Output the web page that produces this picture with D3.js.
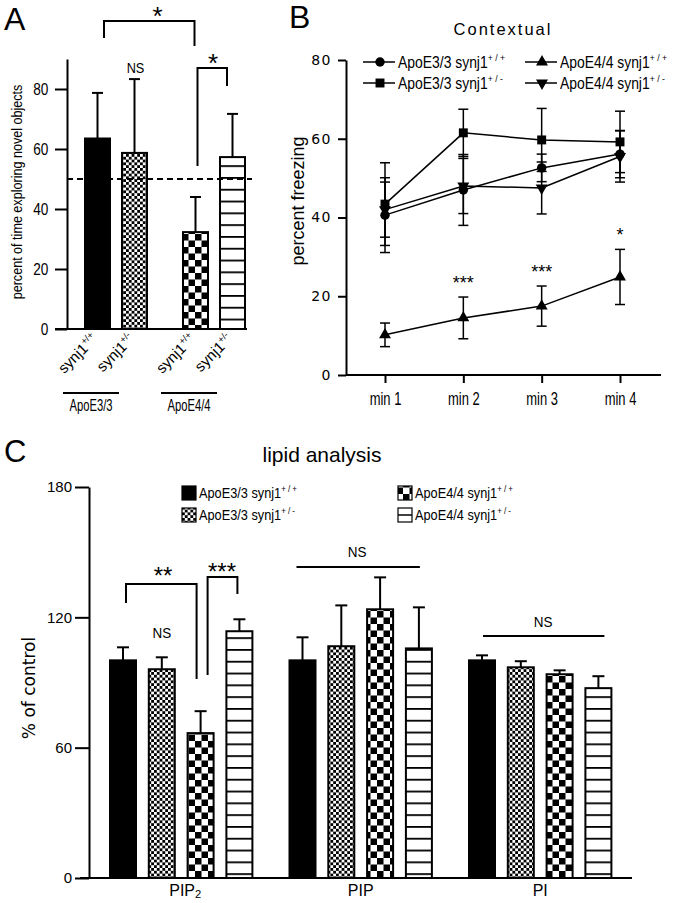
<!DOCTYPE html>
<html><head><meta charset="utf-8">
<script src="https://cdn.jsdelivr.net/npm/d3@7"></script>
<style>body{margin:0;background:#fff}svg{display:block}</style>
</head><body>
<script>
// ================= DATA =================
// Panel A: novel object recognition
const aGroups = ["ApoE3/3", "ApoE4/4"];
const aGenotypes = ["+/+", "+/-"];
const aValues = [63.5, 58.7, 32.3, 57.3];
const aErrors = [15.2, 24.6, 11.7, 14.4];
const aTicks = [0, 20, 40, 60, 80];
const aChance = 50;

// Panel B: contextual fear conditioning
const bTimes = ["min 1", "min 2", "min 3", "min 4"];
const bTicks = [0, 20, 40, 60, 80];
const bNames = ["ApoE3/3 synj1", "ApoE3/3 synj1", "ApoE4/4 synj1", "ApoE4/4 synj1"];
const bSups = ["+ / +", "+ / -", "+ / +", "+ / -"];
const bE33wt = [40.6, 47.0, 52.6, 56.1];
const bE33wtErr = [9.5, 9.0, 3.5, 6.0];
const bE33het = [43.4, 61.5, 59.7, 59.2];
const bE33hetErr = [10.5, 6.0, 8.0, 7.8];
const bE44wt = [10.2, 14.5, 17.5, 24.9];
const bE44wtErr = [3.0, 5.3, 5.1, 7.0];
const bE44het = [42.0, 48.0, 47.5, 55.5];
const bE44hetErr = [7.0, 7.0, 6.6, 6.5];
const bStars = ["", "***", "***", "*"];

// Panel C: lipid analysis
const cLipids = ["PIP", "PIP", "PI"];
const cLipidSubs = ["2", "", ""];
const cTicks = [0, 60, 120, 180];
const cE33wt = [100.2, 100.2, 100.2];
const cE33wtErr = [6.0, 10.6, 2.3];
const cE33het = [96.1, 106.7, 97.0];
const cE33hetErr = [5.5, 18.8, 2.8];
const cE44wt = [66.7, 123.7, 93.8];
const cE44wtErr = [10.1, 14.7, 1.8];
const cE44het = [113.6, 105.7, 87.4];
const cE44hetErr = [5.5, 18.9, 5.5];
const cNames = ["ApoE3/3 synj1", "ApoE3/3 synj1", "ApoE4/4 synj1", "ApoE4/4 synj1"];
const cSups = ["+ / +", "+ / -", "+ / +", "+ / -"];

// ================= DRAWING =================
const SANS = "'Liberation Sans', Arial, Helvetica, sans-serif";
const WIDE = "'DejaVu Sans', Verdana, sans-serif";
const svg = d3.select("body").append("svg").attr("width", 673).attr("height", 903);

// patterns
const defs = svg.append("defs");
function checker(id, c) {
  const p = defs.append("pattern").attr("id", id).attr("patternUnits", "userSpaceOnUse")
    .attr("width", 2 * c).attr("height", 2 * c);
  p.append("rect").attr("width", 2 * c).attr("height", 2 * c).attr("fill", "#fff");
  p.append("rect").attr("width", c).attr("height", c).attr("fill", "#000");
  p.append("rect").attr("x", c).attr("y", c).attr("width", c).attr("height", c).attr("fill", "#000");
}
checker("fineChk", 2.8);
checker("bigChk", 6.5);
const sp = defs.append("pattern").attr("id", "stripes").attr("patternUnits", "userSpaceOnUse")
  .attr("width", 20).attr("height", 11.8);
sp.append("rect").attr("width", 20).attr("height", 11.8).attr("fill", "#fff");
sp.append("rect").attr("y", 0).attr("width", 20).attr("height", 1.8).attr("fill", "#000");
const fills = ["#000", "url(#fineChk)", "url(#bigChk)", "url(#stripes)"];

// text helper: parts = [{t, sup?, sub?}]
function label(parent, x, y, parts, o) {
  const t = parent.append("text")
    .attr("transform", `translate(${x},${y}) rotate(${o.rotate || 0}) scale(${o.sx || 1},1)`)
    .attr("font-family", o.family || SANS).attr("font-size", o.size)
    .attr("text-anchor", o.anchor || "start").attr("letter-spacing", o.ls || 0)
    .attr("fill", "#000");
  let shift = 0;
  parts.forEach(p => {
    const s = t.append("tspan").text(p.t);
    if (p.sup) { s.attr("font-size", o.size * 0.62).attr("dy", -o.size * 0.42 - shift); shift = -o.size * 0.42; }
    else if (p.sub) { s.attr("font-size", o.size * 0.7).attr("dy", o.size * 0.15 - shift); shift = o.size * 0.15; }
    else if (shift) { s.attr("dy", -shift); shift = 0; }
  });
  return t;
}
function styleAxis(g, fontSize, family) {
  g.select(".domain").attr("stroke-width", 2);
  g.selectAll(".tick line").attr("stroke-width", 2);
  g.selectAll(".tick text").attr("font-size", fontSize).attr("font-family", family).attr("fill", "#000");
}
function errBar(g, cx, y0, y1, cap, w) {
  g.append("line").attr("x1", cx).attr("x2", cx).attr("y1", y0).attr("y2", y1).attr("stroke", "#000").attr("stroke-width", w);
  g.append("line").attr("x1", cx - cap / 2).attr("x2", cx + cap / 2).attr("y1", y1).attr("y2", y1).attr("stroke", "#000").attr("stroke-width", w);
}
function path(g, pts, w) {
  g.append("path").attr("d", d3.line()(pts)).attr("fill", "none").attr("stroke", "#000").attr("stroke-width", w || 2);
}

// ---------- Panel A ----------
const A = svg.append("g");
label(A, 4, 30, [{ t: "A" }], { size: 32 });
const ay = d3.scaleLinear().domain([0, 90]).range([329, 59]);
const axG = d3.scaleBand().domain(aGroups).range([67, 263]);
const axS = d3.scaleBand().domain(aGenotypes).range([18, 80]).paddingInner(12 / 37);
const aBars = aValues.map((v, i) => {
  const g = aGroups[Math.floor(i / 2)], k = aGenotypes[i % 2];
  return { g, k, v, e: aErrors[i], x: axG(g) + axS(k), fill: fills[i] };
});
const aw = axS.bandwidth();
const aAxis = A.append("g").attr("transform", "translate(67,0)")
  .call(d3.axisLeft(ay).tickValues(aTicks).tickSize(12).tickSizeOuter(0).tickPadding(7));
styleAxis(aAxis, 16, SANS);
aAxis.selectAll(".tick text").attr("transform", "scale(0.85,1)").attr("x", -22);
A.append("line").attr("x1", 55).attr("x2", 247).attr("y1", ay(0)).attr("y2", ay(0)).attr("stroke", "#000").attr("stroke-width", 2);
aBars.forEach(d => {
  errBar(A, d.x + aw / 2, ay(d.v), ay(d.v + d.e), 11, 2);
  A.append("rect").attr("x", d.x).attr("y", ay(d.v)).attr("width", aw).attr("height", ay(0) - ay(d.v))
    .attr("fill", d.fill).attr("stroke", "#000").attr("stroke-width", 2);
});
A.append("line").attr("x1", 67).attr("x2", 252).attr("y1", ay(aChance)).attr("y2", ay(aChance))
  .attr("stroke", "#000").attr("stroke-width", 2).attr("stroke-dasharray", "6,4");
// brackets
const ac = aBars.map(d => d.x + aw / 2);
path(A, [[ac[0] + 6.5, 38], [ac[0] + 6.5, 21], [ac[2] - 1, 21], [ac[2] - 1, 46]], 2);
path(A, [[ac[2] + 2, 166], [ac[2] + 2, 68], [ac[3] - 5.5, 68], [ac[3] - 5.5, 86]], 2);
label(A, (ac[0] + ac[2]) / 2 + 11, 25, [{ t: "*" }], { size: 26, anchor: "middle" });
label(A, (ac[2] + ac[3]) / 2 - 1, 72, [{ t: "*" }], { size: 26, anchor: "middle" });
label(A, ac[1] + 1, 73, [{ t: "NS" }], { size: 15, anchor: "middle", sx: 0.85 });
// y title
label(A, 22, 192, [{ t: "percent of time exploring novel objects" }], { size: 14, anchor: "middle", rotate: -90, sx: 0.9 });
// rotated genotype labels
aBars.forEach(d => {
  label(A, d.x + aw / 2 + 1, 340, [{ t: "synj1" }, { t: d.k, sup: true }], { size: 15, anchor: "end", rotate: -45 });
});
aGroups.forEach(g => {
  const cx = axG(g) + axG.bandwidth() / 2 - 25;
  A.append("line").attr("x1", cx - 28).attr("x2", cx + 28).attr("y1", 393).attr("y2", 393).attr("stroke", "#000").attr("stroke-width", 2);
  label(A, cx, 411, [{ t: g }], { size: 17, anchor: "middle", sx: 0.66 });
});

// ---------- Panel B ----------
const B = svg.append("g");
label(B, 289, 28, [{ t: "B" }], { size: 32 });
label(B, 503, 35, [{ t: "Contextual" }], { size: 16.5, anchor: "middle", ls: 2 });
const by = d3.scaleLinear().domain([0, 80]).range([375, 60]);
const bx = d3.scalePoint().domain(bTimes).range([385, 620]);
const bAxis = B.append("g").attr("transform", "translate(346,0)")
  .call(d3.axisLeft(by).tickValues(bTicks).tickSize(8).tickSizeOuter(0).tickPadding(6));
styleAxis(bAxis, 14, WIDE);
bAxis.selectAll(".tick text").attr("letter-spacing", 1.5);
B.append("line").attr("x1", 346).attr("x2", 661).attr("y1", by(0)).attr("y2", by(0)).attr("stroke", "#000").attr("stroke-width", 2);
const bxAxis = B.append("g").attr("transform", `translate(0,${by(0)})`)
  .call(d3.axisBottom(bx).tickSize(8).tickSizeOuter(0).tickPadding(6));
bxAxis.select(".domain").remove();
styleAxis(bxAxis, 18, SANS);
bxAxis.selectAll(".tick text").attr("transform", "scale(0.72,1)").attr("dy", "0.9em");
label(B, 304, 201, [{ t: "percent freezing" }], { size: 18, anchor: "middle", rotate: -90 });

const bSeries = [
  { v: bE33wt, e: bE33wtErr, sym: d3.symbolCircle, size: 70, rot: 0 },
  { v: bE33het, e: bE33hetErr, sym: d3.symbolSquare, size: 80, rot: 0 },
  { v: bE44wt, e: bE44wtErr, sym: d3.symbolTriangle, size: 62, rot: 0 },
  { v: bE44het, e: bE44hetErr, sym: d3.symbolTriangle, size: 62, rot: 180 }
];
bSeries.forEach(s => {
  s.v.forEach((v, i) => {
    const cx = bx(bTimes[i]);
    errBar(B, cx, by(v), by(v + s.e[i]), 10, 1.5);
    errBar(B, cx, by(v), by(v - s.e[i]), 10, 1.5);
  });
});
bSeries.forEach(s => {
  path(B, s.v.map((v, i) => [bx(bTimes[i]), by(v)]), 1.5);
});
bSeries.forEach(s => {
  s.v.forEach((v, i) => {
    B.append("path").attr("d", d3.symbol().type(s.sym).size(s.size)())
      .attr("transform", `translate(${bx(bTimes[i])},${by(v)}) rotate(${s.rot})`).attr("fill", "#000");
  });
});
bStars.forEach((st, i) => {
  if (!st) return;
  const s = bSeries[2];
  label(B, bx(bTimes[i]), by(s.v[i] + s.e[i]) - 8, [{ t: st }], { size: 18, anchor: "middle" });
});
// legend B
bSeries.forEach((s, i) => {
  const col = Math.floor(i / 2), row = i % 2;
  const x0 = col ? 525 : 363, y0 = row ? 83 : 62;
  B.append("line").attr("x1", x0).attr("x2", x0 + 32).attr("y1", y0).attr("y2", y0).attr("stroke", "#000").attr("stroke-width", 1.5);
  B.append("path").attr("d", d3.symbol().type(s.sym).size(s.size)())
    .attr("transform", `translate(${x0 + 17},${y0}) rotate(${s.rot})`).attr("fill", "#000");
  label(B, x0 + 35, y0 + 5.5, [{ t: bNames[i] }, { t: bSups[i], sup: true }], { size: 16, sx: 0.87 });
});

// ---------- Panel C ----------
const C = svg.append("g");
label(C, 4, 462, [{ t: "C" }], { size: 31 });
label(C, 322, 462, [{ t: "lipid analysis" }], { size: 21, anchor: "middle" });
const cy = d3.scaleLinear().domain([0, 180]).range([878, 487]);
const cxG = d3.scaleBand().domain([0, 1, 2]).range([91.5, 630]);
const cSeries = [
  { v: cE33wt, e: cE33wtErr }, { v: cE33het, e: cE33hetErr },
  { v: cE44wt, e: cE44wtErr }, { v: cE44het, e: cE44hetErr }
];
const cxS = d3.scaleBand().domain([0, 1, 2, 3]).range([18.5, 160.9]).paddingInner(12.8 / 38.8);
const cw = cxS.bandwidth();
const cAxis = C.append("g").attr("transform", "translate(89,0)")
  .call(d3.axisLeft(cy).tickValues(cTicks).tickSize(14).tickSizeOuter(0).tickPadding(3));
styleAxis(cAxis, 15, SANS);
C.append("line").attr("x1", 80).attr("x2", 632).attr("y1", cy(0)).attr("y2", cy(0)).attr("stroke", "#000").attr("stroke-width", 2);
const cCenters = [];
cLipids.forEach((lip, gi) => {
  cCenters[gi] = [];
  cSeries.forEach((s, si) => {
    const x = cxG(gi) + cxS(si), v = s.v[gi];
    cCenters[gi][si] = x + cw / 2;
    errBar(C, x + cw / 2, cy(v), cy(v + s.e[gi]), 12, 2);
    C.append("rect").attr("x", x).attr("y", cy(v)).attr("width", cw).attr("height", cy(0) - cy(v))
      .attr("fill", fills[si]).attr("stroke", "#000").attr("stroke-width", 2);
  });
  const parts = [{ t: lip }];
  if (cLipidSubs[gi]) parts.push({ t: cLipidSubs[gi], sub: true });
  label(C, cxG(gi) + cxG.bandwidth() / 2 + (cLipidSubs[gi] ? 4 : 0), 896, parts, { size: 16, anchor: "middle" });
});
label(C, 35, 688, [{ t: "% of control" }], { size: 17, anchor: "middle", rotate: -90, family: WIDE });
// significance
const cc = cCenters;
path(C, [[cc[0][0] + 3, 603], [cc[0][0] + 3, 584], [cc[0][2] - 4, 584], [cc[0][2] - 4, 679]], 2);
path(C, [[cc[0][2] + 7, 675], [cc[0][2] + 7, 577], [cc[0][3] - 2, 577], [cc[0][3] - 2, 594]], 2);
label(C, 163, 584, [{ t: "**" }], { size: 24, anchor: "middle" });
label(C, 222, 580, [{ t: "***" }], { size: 24, anchor: "middle" });
label(C, cc[0][1] + 0, 638, [{ t: "NS" }], { size: 15, anchor: "middle", sx: 0.9 });
path(C, [[cc[1][0] - 6, 567], [cc[1][3] + 1, 567]], 2);
label(C, 357, 557, [{ t: "NS" }], { size: 15, anchor: "middle", sx: 0.9 });
path(C, [[cc[2][0] + 1, 636], [cc[2][3] + 6, 636]], 2);
label(C, 543, 627, [{ t: "NS" }], { size: 15, anchor: "middle", sx: 0.9 });
// legend C
cNames.forEach((n, i) => {
  const col = Math.floor(i / 2), row = i % 2;
  const x0 = col ? 398 : 182, y0 = row ? 508 : 486;
  C.append("rect").attr("x", x0).attr("y", y0).attr("width", 14).attr("height", 14)
    .attr("fill", i === 3 ? "#fff" : fills[i]).attr("stroke", "#000").attr("stroke-width", 1.2);
  if (i === 3) C.append("line").attr("x1", x0).attr("x2", x0 + 14).attr("y1", y0 + 7).attr("y2", y0 + 7).attr("stroke", "#000").attr("stroke-width", 1.5);
  label(C, x0 + 17, y0 + 12, [{ t: n }, { t: cSups[i], sup: true }], { size: 15, sx: 0.85 });
});
</script>
</body></html>
